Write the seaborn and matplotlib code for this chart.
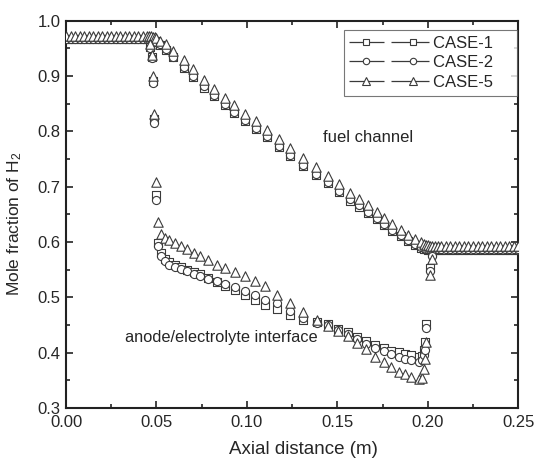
import pandas as pd
import matplotlib
matplotlib.use('Agg')
import matplotlib.pyplot as plt
from matplotlib.lines import Line2D
from matplotlib.legend_handler import HandlerLine2D
from matplotlib.ticker import MultipleLocator, FormatStrFormatter
import seaborn as sns

# Axial positions (m) of the fuel-channel points
fuel_x = [0.0, 0.0025, 0.005, 0.0075, 0.01, 0.0125, 0.015, 0.0175, 0.02, 0.0225,
          0.025, 0.0275, 0.03, 0.0325, 0.035, 0.0375, 0.04, 0.0425, 0.045,
          0.046, 0.047, 0.048, 0.049, 0.05,
          0.052, 0.055, 0.059, 0.065, 0.07, 0.076, 0.082, 0.088, 0.093, 0.099,
          0.105, 0.111, 0.118, 0.124, 0.131, 0.138, 0.145, 0.151, 0.157, 0.162,
          0.167, 0.172, 0.176, 0.18, 0.185, 0.189, 0.193, 0.196, 0.198, 0.199, 0.2,
          0.201, 0.2025, 0.204, 0.2055, 0.2075, 0.21, 0.2125, 0.215, 0.2175, 0.22,
          0.2225, 0.225, 0.2275, 0.23, 0.2325, 0.235, 0.2375, 0.24, 0.2425, 0.245,
          0.2475, 0.25]

# H2 mole fraction in the fuel channel
fuel_case1 = [0.967, 0.967, 0.967, 0.967, 0.967, 0.967, 0.967, 0.967, 0.967, 0.967,
              0.967, 0.967, 0.967, 0.967, 0.967, 0.967, 0.967, 0.967, 0.967,
              0.967, 0.967, 0.966, 0.964, 0.961,
              0.956, 0.947, 0.934, 0.914, 0.898, 0.879, 0.863, 0.847, 0.833, 0.818,
              0.804, 0.789, 0.772, 0.755, 0.738, 0.721, 0.706, 0.690, 0.675, 0.664,
              0.653, 0.641, 0.631, 0.620, 0.610, 0.601, 0.594, 0.590, 0.588, 0.587, 0.586,
              0.586, 0.586, 0.586, 0.586, 0.586, 0.586, 0.586, 0.586, 0.586, 0.586,
              0.586, 0.586, 0.586, 0.586, 0.586, 0.586, 0.586, 0.586, 0.586, 0.586,
              0.586, 0.586]
fuel_case2 = [0.967, 0.967, 0.967, 0.967, 0.967, 0.967, 0.967, 0.967, 0.967, 0.967,
              0.967, 0.967, 0.967, 0.967, 0.967, 0.967, 0.967, 0.967, 0.967,
              0.967, 0.967, 0.966, 0.965, 0.962,
              0.957, 0.948, 0.935, 0.916, 0.900, 0.881, 0.865, 0.849, 0.835, 0.820,
              0.806, 0.791, 0.774, 0.757, 0.740, 0.723, 0.708, 0.692, 0.677, 0.666,
              0.655, 0.643, 0.633, 0.622, 0.612, 0.603, 0.596, 0.591, 0.589, 0.588, 0.587,
              0.587, 0.587, 0.587, 0.587, 0.587, 0.587, 0.587, 0.587, 0.587, 0.587,
              0.587, 0.587, 0.587, 0.587, 0.587, 0.587, 0.587, 0.587, 0.587, 0.587,
              0.587, 0.587]
fuel_case5 = [0.973, 0.973, 0.973, 0.973, 0.973, 0.973, 0.973, 0.973, 0.973, 0.973,
              0.973, 0.973, 0.973, 0.973, 0.973, 0.973, 0.973, 0.973, 0.973,
              0.973, 0.972, 0.971, 0.970, 0.968,
              0.964, 0.957, 0.946, 0.928, 0.912, 0.893, 0.877, 0.861, 0.847, 0.832,
              0.818, 0.803, 0.786, 0.769, 0.752, 0.735, 0.720, 0.704, 0.689, 0.678,
              0.667, 0.655, 0.644, 0.632, 0.622, 0.613, 0.605, 0.600, 0.597, 0.595, 0.594,
              0.593, 0.593, 0.593, 0.593, 0.593, 0.593, 0.593, 0.593, 0.593, 0.593,
              0.593, 0.593, 0.593, 0.593, 0.593, 0.593, 0.593, 0.593, 0.593, 0.593,
              0.593, 0.593]

# Axial positions (m) of the anode/electrolyte interface points
iface_x = [0.0465, 0.0473, 0.0482, 0.0488, 0.0496, 0.051, 0.0525, 0.0545, 0.057, 0.06,
           0.0635, 0.067, 0.0705, 0.0741, 0.0787, 0.0833, 0.0879, 0.0935, 0.099, 0.1045,
           0.11, 0.1165, 0.124, 0.131, 0.1386, 0.1446, 0.1506, 0.156, 0.161, 0.166,
           0.171, 0.1756, 0.1796, 0.184, 0.1875, 0.191, 0.195, 0.197, 0.198, 0.1985,
           0.199, 0.2015, 0.2022]

iface_case1 = [0.953, 0.934, 0.891, 0.822, 0.685, 0.598, 0.580, 0.570, 0.564, 0.559,
               0.555, 0.550, 0.546, 0.542, 0.535, 0.528, 0.521, 0.513, 0.504, 0.496,
               0.487, 0.479, 0.468, 0.460, 0.455, 0.452, 0.443, 0.437, 0.429, 0.421,
               0.414, 0.409, 0.404, 0.401, 0.398, 0.395, 0.392, 0.394, 0.405, 0.420,
               0.451, 0.553, 0.580]
iface_case2 = [0.951, 0.932, 0.888, 0.815, 0.676, 0.592, 0.574, 0.565, 0.559, 0.555,
               0.551, 0.547, 0.543, 0.539, 0.534, 0.529, 0.524, 0.518, 0.512, 0.505,
               0.496, 0.489, 0.475, 0.462, 0.454, 0.450, 0.441, 0.434, 0.424, 0.416,
               0.409, 0.403, 0.397, 0.392, 0.389, 0.386, 0.383, 0.387, 0.395, 0.405,
               0.445, 0.548, 0.575]
iface_case5 = [0.957, 0.938, 0.900, 0.831, 0.708, 0.637, 0.615, 0.608, 0.604, 0.599,
               0.593, 0.587, 0.581, 0.575, 0.568, 0.559, 0.553, 0.545, 0.538, 0.529,
               0.520, 0.505, 0.490, 0.473, 0.460, 0.449, 0.439, 0.430, 0.418, 0.406,
               0.392, 0.383, 0.374, 0.366, 0.361, 0.356, 0.353, 0.355, 0.370, 0.388,
               0.420, 0.541, 0.570]

cases = ['CASE-1', 'CASE-2', 'CASE-5']
markers = {'CASE-1': 's', 'CASE-2': 'o', 'CASE-5': '^'}
sizes = {'CASE-1': 26, 'CASE-2': 34, 'CASE-5': 46}

fuel = {'CASE-1': fuel_case1, 'CASE-2': fuel_case2, 'CASE-5': fuel_case5}
iface = {'CASE-1': iface_case1, 'CASE-2': iface_case2, 'CASE-5': iface_case5}

rows = []
for c in cases:
    for x, y in zip(fuel_x, fuel[c]):
        rows.append({'x': x, 'y': y, 'case': c, 'loc': 'fuel'})
    for x, y in zip(iface_x, iface[c]):
        rows.append({'x': x, 'y': y, 'case': c, 'loc': 'interface'})
df = pd.DataFrame(rows)

sns.set_style('ticks')
plt.rcParams['font.family'] = ['Liberation Sans', 'DejaVu Sans']
plt.rcParams['mathtext.fontset'] = 'custom'
plt.rcParams['mathtext.rm'] = 'Liberation Sans'
plt.rcParams['mathtext.it'] = 'Liberation Sans:italic'

edge = '#3a3a3a'
fig = plt.figure(figsize=(5.37, 4.58), dpi=100)
ax = fig.add_axes([0.123, 0.109, 0.842, 0.846])

for c in cases:
    sub = df[df['case'] == c]
    sns.scatterplot(data=sub, x='x', y='y', marker=markers[c], s=sizes[c],
                    facecolor='white', edgecolor=edge, linewidth=0.8,
                    ax=ax, legend=False, zorder=3)

ax.set_xlim(0, 0.25)
ax.set_ylim(0.3, 1.0)
ax.xaxis.set_major_locator(MultipleLocator(0.05))
ax.xaxis.set_minor_locator(MultipleLocator(0.025))
ax.yaxis.set_major_locator(MultipleLocator(0.1))
ax.yaxis.set_minor_locator(MultipleLocator(0.05))
ax.xaxis.set_major_formatter(FormatStrFormatter('%.2f'))
ax.yaxis.set_major_formatter(FormatStrFormatter('%.1f'))
ax.tick_params(which='both', direction='in', top=True, right=True,
               labelsize=12, width=1.2, color='#222222')
ax.tick_params(which='major', length=5)
ax.tick_params(which='minor', length=3)
ax.tick_params(axis='x', pad=5)
ax.tick_params(axis='y', pad=4)
for sp in ax.spines.values():
    sp.set_linewidth(1.5)
    sp.set_color('#222222')

ax.set_xlabel('Axial distance (m)', fontsize=13.5)
ax.set_ylabel('Mole fraction of H$_2$', fontsize=12.5)
ax.xaxis.set_label_coords(0.525, -0.085)
ax.yaxis.set_label_coords(-0.093, 0.475)

ax.text(0.142, 0.788, 'fuel channel', fontsize=12, va='center', ha='left')
ax.text(0.0326, 0.427, 'anode/electrolyte interface', fontsize=11.8, va='center', ha='left')

# legend sample: dashed line with two inset markers (Origin style)
handles = []
hmap = {}
for c in cases:
    line_h = Line2D([], [], color=edge, lw=0.9, ls=(0, (28, 5.6, 45, 5.6)))
    mark_h = Line2D([], [], ls='none', marker=markers[c],
                    markersize=4.6 if c != 'CASE-5' else 5.8,
                    mfc='white', mec=edge, mew=0.8)
    hmap[line_h] = HandlerLine2D(marker_pad=0.0)
    hmap[mark_h] = HandlerLine2D(marker_pad=1.0)
    handles.append((line_h, mark_h))
labels = [c + '    ' for c in cases]
leg = ax.legend(handles, labels, loc='upper right', numpoints=2, handlelength=4.8,
                fontsize=12, frameon=True, fancybox=False, borderaxespad=0.2,
                handletextpad=0.2, labelspacing=0.28, borderpad=0.35,
                bbox_to_anchor=(1.005, 0.985), handler_map=hmap)
leg.get_frame().set_edgecolor('#555555')
leg.get_frame().set_linewidth(0.8)

fig.savefig('out.png', dpi=100)
